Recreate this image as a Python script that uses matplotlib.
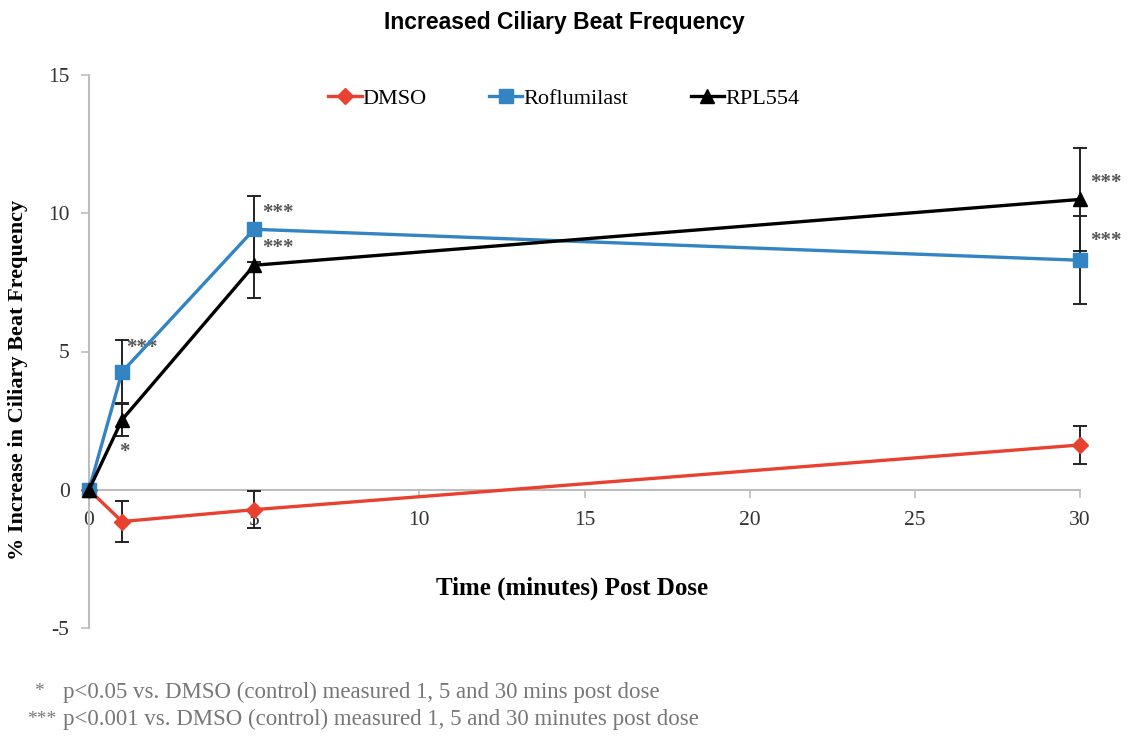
import numpy as np
import matplotlib.pyplot as plt
from matplotlib.lines import Line2D

plt.rcParams['axes.unicode_minus'] = False

# time points (minutes post dose)
time = [0, 1, 5, 30]

# mean % increase and error for each treatment
dmso = [0, -1.15, -0.72, 1.62]
dmso_err = [0, 0.75, 0.68, 0.68]
roflumilast = [0, 4.26, 9.42, 8.3]
roflumilast_err = [0, 1.15, 1.2, 1.6]
rpl554 = [0, 2.53, 8.12, 10.5]
rpl554_err = [0, 0.6, 1.2, 1.85]

# significance stars: (series, time index, text, x offset px, y offset px)
stars = [
    ('Roflumilast', 1, '***', 4, 24),
    ('RPL554', 1, '*', -3, -32),
    ('Roflumilast', 2, '***', 8, 16),
    ('RPL554', 2, '***', 8, 17),
    ('RPL554', 3, '***', 10, 16),
    ('Roflumilast', 3, '***', 10, 19),
]

serif = 'Liberation Serif'
grey_axis = '#bdbdbd'

fig = plt.figure(figsize=(11.28, 7.4), dpi=100)
ax = fig.add_axes([89/1128, 1 - 628/740, 991/1128, 553/740])

series = {
    'DMSO': (dmso, dmso_err, '#e8412f', 'D', 8),
    'Roflumilast': (roflumilast, roflumilast_err, '#3384c2', 's', 10),
    'RPL554': (rpl554, rpl554_err, 'black', '^', 10),
}
handles = []
for name, (vals, err, col, mk, ms) in series.items():
    ax.errorbar(time, vals, yerr=err, color=col, marker=mk, markersize=ms,
                linewidth=2.4, ecolor='#222222', elinewidth=1.4, capsize=5,
                capthick=1.4, zorder=3)
    handles.append(Line2D([], [], color=col, marker=mk, markersize=ms,
                          linewidth=2.4, label=name))

for name, i, txt, dx, dy in stars:
    vals = series[name][0]
    ax.annotate(txt, (time[i], vals[i]), xytext=(dx * 0.72, dy * 0.72),
                textcoords='offset points', ha='left', va='center',
                fontsize=15, color='#555555', family=serif, fontweight='bold')

ax.set_xlim(0, 30)
ax.set_ylim(-5, 15)
ax.set_xticks([0, 5, 10, 15, 20, 25, 30])
ax.set_yticks([-5, 0, 5, 10, 15])
ax.spines['top'].set_visible(False)
ax.spines['right'].set_visible(False)
ax.spines['bottom'].set_position(('data', 0))
ax.spines['left'].set_color(grey_axis)
ax.spines['bottom'].set_color(grey_axis)
ax.spines['left'].set_linewidth(1.5)
ax.spines['bottom'].set_linewidth(1.5)
ax.tick_params(axis='both', colors=grey_axis, labelcolor='#333333',
               labelsize=15.5, length=6, width=1.2, direction='out')
ax.tick_params(axis='x', pad=9)
ax.tick_params(axis='y', pad=8)
for lab in ax.get_xticklabels() + ax.get_yticklabels():
    lab.set_fontfamily(serif)
for art in ax.get_children():
    art.set_clip_on(False)

ax.legend(handles=handles, loc='center', bbox_to_anchor=(0.479, 0.958),
          ncol=3, frameon=False, prop={'family': serif, 'size': 16},
          handlelength=1.5, handletextpad=0.05, columnspacing=2.8)

fig.text(572/1128, 1 - 588/740, 'Time (minutes) Post Dose', ha='center',
         va='center', family=serif, fontweight='bold', fontsize=18)
fig.text(18/1128, 1 - 380/740, '% Increase in Ciliary Beat Frequency',
         ha='center', va='center', rotation=90, family=serif,
         fontweight='bold', fontsize=16)
fig.text(564/1128, 1 - 22/740, 'Increased Ciliary Beat Frequency', ha='center',
         va='center', fontweight='bold', fontsize=16.5, family='Liberation Sans')

fig.text(34/1128, 1 - 692/740, '*', family=serif, fontsize=14,
         color='#777777', va='center')
fig.text(63/1128, 1 - 692/740,
         'p<0.05 vs. DMSO (control) measured 1, 5 and 30 mins post dose',
         family=serif, fontsize=16.5, color='#777777', va='center')
fig.text(56/1128, 1 - 719/740, '***', family=serif, fontsize=14,
         color='#777777', va='center', ha='right')
fig.text(63/1128, 1 - 719/740,
         'p<0.001 vs. DMSO (control) measured 1, 5 and 30 minutes post dose',
         family=serif, fontsize=16.5, color='#777777', va='center')

fig.savefig('out.png', dpi=100)
